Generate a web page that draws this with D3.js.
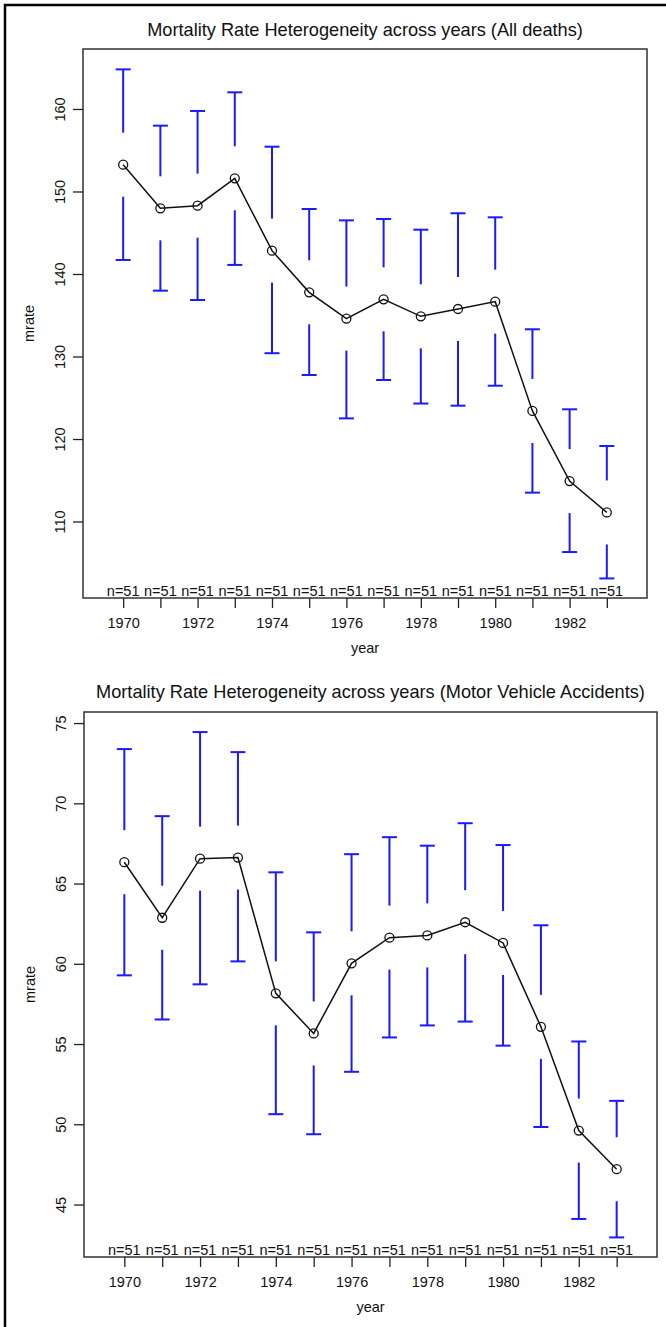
<!DOCTYPE html>
<html>
<head>
<meta charset="utf-8">
<script src="https://cdn.jsdelivr.net/npm/d3@7"></script>
<style>
  body { margin: 0; background: #fff; }
  svg text { font-family: "Liberation Sans", Arial, Helvetica, sans-serif; fill: #111; }
</style>
</head>
<body>
<svg id="chart" width="666" height="1327"></svg>
<script>
// years and per-year sample sizes
const years = [1970, 1971, 1972, 1973, 1974, 1975, 1976, 1977, 1978, 1979, 1980, 1981, 1982, 1983];
const counts = [51, 51, 51, 51, 51, 51, 51, 51, 51, 51, 51, 51, 51, 51];
const yearTicks = [1970, 1972, 1974, 1976, 1978, 1980, 1982];

// All deaths: mean and confidence interval ends
const allMean  = [153.25, 147.96, 148.28, 151.6, 142.83, 137.78, 134.6, 136.93, 134.87, 135.76, 136.65, 123.4, 114.9, 111.1];
const allUpper = [164.8, 157.98, 159.76, 162.02, 155.43, 147.88, 146.5, 146.67, 145.37, 147.36, 146.87, 133.3, 123.6, 119.15];
const allLower = [141.7, 137.98, 136.85, 141.1, 130.4, 127.76, 122.5, 127.15, 124.3, 124.04, 126.46, 113.5, 106.3, 103.1];
const allTicks = [110, 120, 130, 140, 150, 160];

// Motor vehicle accidents
const mvMean  = [66.33, 62.87, 66.55, 66.62, 58.16, 55.66, 60.03, 61.63, 61.77, 62.59, 61.3, 56.07, 49.61, 47.2];
const mvUpper = [73.38, 69.2, 74.44, 73.19, 65.7, 61.96, 66.83, 67.89, 67.36, 68.76, 67.4, 62.4, 55.16, 51.46];
const mvLower = [59.28, 56.53, 58.72, 60.15, 50.63, 49.38, 53.27, 55.41, 56.16, 56.4, 54.9, 49.83, 44.1, 42.95];
const mvTicks = [45, 50, 55, 60, 65, 70, 75];

const svg = d3.select("#chart");
const fs = "14.5px";

// frame around the picture
svg.append("path")
    .attr("d", "M5,1327 L5,5 L666,5")
    .attr("fill", "none")
    .attr("stroke", "#000")
    .attr("stroke-width", 2.5);

function drawPanel(p) {
    const x = d3.scaleLinear().domain(p.xDomain).range([p.left, p.right]);
    const y = d3.scaleLinear().domain(p.yDomain).range([p.bottom, p.top]);
    const g = svg.append("g");
    const gap = 32, cap = 7.5;

    // title
    g.append("text")
        .attr("x", (p.left + p.right) / 2)
        .attr("y", p.titleY)
        .attr("text-anchor", "middle")
        .style("font-size", "18.2px")
        .text(p.title);

    // box
    g.append("rect")
        .attr("x", p.left).attr("y", p.top)
        .attr("width", p.right - p.left).attr("height", p.bottom - p.top)
        .attr("fill", "none").attr("stroke", "#333").attr("stroke-width", 1.5);

    // x axis
    const xAxis = g.append("g")
        .attr("transform", `translate(0,${p.bottom})`)
        .call(d3.axisBottom(x).tickValues(years).tickSize(10).tickSizeOuter(0).tickFormat(d => yearTicks.includes(d) ? d : ""));
    xAxis.select(".domain").remove();
    xAxis.selectAll("line").attr("stroke", "#222").attr("stroke-width", 1.3);
    xAxis.selectAll("text").attr("dy", null).attr("y", 30).style("font-size", fs).style("font-family", "Liberation Sans, Arial, sans-serif").attr("fill", "#111");

    // y axis
    const yAxis = g.append("g")
        .attr("transform", `translate(${p.left},0)`)
        .call(d3.axisLeft(y).tickValues(p.ticks).tickSize(10).tickSizeOuter(0));
    yAxis.select(".domain").remove();
    yAxis.selectAll("line").attr("stroke", "#222").attr("stroke-width", 1.3);
    yAxis.selectAll("text")
        .attr("x", null).attr("dy", null)
        .attr("transform", "translate(-18,0) rotate(-90)")
        .attr("text-anchor", "middle")
        .attr("y", 0)
        .style("font-size", fs)
        .style("font-family", "Liberation Sans, Arial, sans-serif")
        .attr("fill", "#111");

    // axis labels
    g.append("text")
        .attr("x", (p.left + p.right) / 2)
        .attr("y", p.bottom + 55)
        .attr("text-anchor", "middle")
        .style("font-size", fs)
        .text("year");
    g.append("text")
        .attr("transform", `translate(${p.left - 49},${(p.top + p.bottom) / 2}) rotate(-90)`)
        .attr("text-anchor", "middle")
        .style("font-size", fs)
        .text("mrate");

    // n= labels
    g.selectAll(".nlab")
        .data(years)
        .enter().append("text")
        .attr("x", d => x(d))
        .attr("y", p.bottom - 2)
        .attr("text-anchor", "middle")
        .style("font-size", fs)
        .text((d, i) => "n=" + counts[i]);

    // error bars with a gap around the mean
    const rows = years.map((yr, i) => ({ yr, m: p.mean[i], hi: p.upper[i], lo: p.lower[i] }));
    const bars = g.append("g").attr("stroke", "#1a1aff").attr("stroke-width", 2);
    rows.forEach(d => {
        const cx = x(d.yr), cy = y(d.m);
        bars.append("line").attr("x1", cx).attr("x2", cx).attr("y1", y(d.hi)).attr("y2", cy - gap);
        bars.append("line").attr("x1", cx).attr("x2", cx).attr("y1", cy + gap).attr("y2", y(d.lo));
        bars.append("line").attr("x1", cx - cap).attr("x2", cx + cap).attr("y1", y(d.hi)).attr("y2", y(d.hi));
        bars.append("line").attr("x1", cx - cap).attr("x2", cx + cap).attr("y1", y(d.lo)).attr("y2", y(d.lo));
    });

    // mean line and points
    g.append("path")
        .datum(rows)
        .attr("fill", "none")
        .attr("stroke", "#111")
        .attr("stroke-width", 1.5)
        .attr("d", d3.line().x(d => x(d.yr)).y(d => y(d.m)));
    g.selectAll(".pt")
        .data(rows)
        .enter().append("circle")
        .attr("cx", d => x(d.yr))
        .attr("cy", d => y(d.m))
        .attr("r", 4.5)
        .attr("fill", "none")
        .attr("stroke", "#111")
        .attr("stroke-width", 1.3);
}

drawPanel({
    title: "Mortality Rate Heterogeneity across years (All deaths)",
    titleY: 36,
    left: 83, right: 647, top: 49, bottom: 598,
    xDomain: [1968.92, 1984.08],
    yDomain: [100.73, 167.27],
    ticks: allTicks,
    mean: allMean, upper: allUpper, lower: allLower
});

drawPanel({
    title: "Mortality Rate Heterogeneity across years (Motor Vehicle Accidents)",
    titleY: 698,
    left: 84, right: 657, top: 712, bottom: 1257,
    xDomain: [1968.935, 1984.065],
    yDomain: [41.73, 75.69],
    ticks: mvTicks,
    mean: mvMean, upper: mvUpper, lower: mvLower
});
</script>
</body>
</html>
